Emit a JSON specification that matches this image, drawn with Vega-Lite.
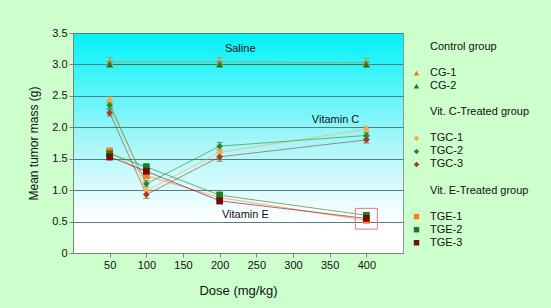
{
  "$schema": "https://vega.github.io/schema/vega-lite/v6.json",
  "width": 330,
  "height": 220,
  "autosize": {"type": "none"},
  "padding": {"left": 73, "top": 33, "right": 148, "bottom": 55},
  "background": "#CCFFCC",
  "config": {
    "font": "Liberation Sans",
    "view": {
      "stroke": "#8A9A9A",
      "strokeWidth": 1,
      "fill": {
        "gradient": "linear", "x1": 0, "y1": 0, "x2": 0, "y2": 1,
        "stops": [
          {"offset": 0, "color": "#00F2F8"},
          {"offset": 0.5, "color": "#A8F6FA"},
          {"offset": 0.85, "color": "#FFFFFF"},
          {"offset": 1, "color": "#FFFFFF"}
        ]
      }
    },
    "axis": {
      "labelFont": "Liberation Sans", "labelFontSize": 11, "labelColor": "#111111",
      "titleFont": "Liberation Sans", "titleFontSize": 12, "titleFontWeight": "normal", "titleColor": "#111111",
      "domainColor": "#808080", "tickColor": "#808080", "tickSize": 4
    },
    "legend": {
      "labelFont": "Liberation Sans", "labelFontSize": 11, "labelColor": "#111111"
    }
  },
  "datasets": {
    "series": [
      {"series": "CG-1", "dose": 50, "mass": 3.04, "lo": 2.97, "hi": 3.11},
      {"series": "CG-1", "dose": 200, "mass": 3.04, "lo": 2.97, "hi": 3.11},
      {"series": "CG-1", "dose": 400, "mass": 3.03, "lo": 2.96, "hi": 3.10},
      {"series": "CG-2", "dose": 50, "mass": 3.0, "lo": 2.96, "hi": 3.04},
      {"series": "CG-2", "dose": 200, "mass": 3.0, "lo": 2.96, "hi": 3.04},
      {"series": "CG-2", "dose": 400, "mass": 3.0, "lo": 2.96, "hi": 3.04},
      {"series": "TGC-1", "dose": 50, "mass": 2.43, "lo": 2.38, "hi": 2.48},
      {"series": "TGC-1", "dose": 100, "mass": 0.99, "lo": 0.94, "hi": 1.04},
      {"series": "TGC-1", "dose": 200, "mass": 1.60, "lo": 1.55, "hi": 1.65},
      {"series": "TGC-1", "dose": 400, "mass": 1.97, "lo": 1.92, "hi": 2.02},
      {"series": "TGC-2", "dose": 50, "mass": 2.35, "lo": 2.30, "hi": 2.40},
      {"series": "TGC-2", "dose": 100, "mass": 1.10, "lo": 1.05, "hi": 1.15},
      {"series": "TGC-2", "dose": 200, "mass": 1.70, "lo": 1.64, "hi": 1.76},
      {"series": "TGC-2", "dose": 400, "mass": 1.87, "lo": 1.82, "hi": 1.92},
      {"series": "TGC-3", "dose": 50, "mass": 2.23, "lo": 2.18, "hi": 2.28},
      {"series": "TGC-3", "dose": 100, "mass": 0.93, "lo": 0.87, "hi": 0.99},
      {"series": "TGC-3", "dose": 200, "mass": 1.53, "lo": 1.46, "hi": 1.60},
      {"series": "TGC-3", "dose": 400, "mass": 1.80, "lo": 1.75, "hi": 1.85},
      {"series": "TGE-1", "dose": 50, "mass": 1.62, "lo": 1.57, "hi": 1.67},
      {"series": "TGE-1", "dose": 100, "mass": 1.23, "lo": 1.18, "hi": 1.28},
      {"series": "TGE-1", "dose": 200, "mass": 0.88, "lo": 0.83, "hi": 0.93},
      {"series": "TGE-1", "dose": 400, "mass": 0.52, "lo": 0.48, "hi": 0.56},
      {"series": "TGE-2", "dose": 50, "mass": 1.58, "lo": 1.53, "hi": 1.63},
      {"series": "TGE-2", "dose": 100, "mass": 1.37, "lo": 1.32, "hi": 1.42},
      {"series": "TGE-2", "dose": 200, "mass": 0.92, "lo": 0.87, "hi": 0.97},
      {"series": "TGE-2", "dose": 400, "mass": 0.60, "lo": 0.56, "hi": 0.64},
      {"series": "TGE-3", "dose": 50, "mass": 1.53, "lo": 1.48, "hi": 1.58},
      {"series": "TGE-3", "dose": 100, "mass": 1.30, "lo": 1.25, "hi": 1.35},
      {"series": "TGE-3", "dose": 200, "mass": 0.83, "lo": 0.78, "hi": 0.88},
      {"series": "TGE-3", "dose": 400, "mass": 0.55, "lo": 0.51, "hi": 0.59}
    ],
    "notes": [
      {"label": "Saline", "dose": 228, "mass": 3.24},
      {"label": "Vitamin C", "dose": 358, "mass": 2.12},
      {"label": "Vitamin E", "dose": 235, "mass": 0.60}
    ],
    "box": [
      {"x1": 385, "x2": 415, "y1": 0.38, "y2": 0.71}
    ]
  },
  "encoding": {
    "x": {"type": "quantitative", "scale": {"domain": [0, 450], "nice": false},
          "title": "Dose (mg/kg)",
          "axis": {"values": [50, 100, 150, 200, 250, 300, 350, 400], "grid": false, "titlePadding": 14, "titleFontSize": 13}},
    "y": {"type": "quantitative", "scale": {"domain": [0, 3.5], "nice": false},
          "title": "Mean tumor mass (g)",
          "axis": {"values": [0, 0.5, 1, 1.5, 2, 2.5, 3, 3.5], "grid": true, "gridColor": "#4E8080", "gridWidth": 1,
                   "labelExpr": "datum.value == 0 ? '0' : format(datum.value, '.1f')", "titlePadding": 11}}
  },
  "layer": [
    {
      "data": {"name": "series"},
      "mark": {"type": "line", "strokeWidth": 1, "opacity": 0.6},
      "encoding": {
        "x": {"field": "dose"},
        "y": {"field": "mass"},
        "stroke": {
          "field": "series", "type": "nominal", "legend": null,
          "scale": {
            "domain": ["CG-1", "CG-2", "TGC-1", "TGC-2", "TGC-3", "TGE-1", "TGE-2", "TGE-3"],
            "range": ["#F07820", "#1A7A1A", "#FFA940", "#2A8A2A", "#9A4020", "#FF7A20", "#1A801A", "#7A0A0A"]
          }
        },
        "order": {"field": "dose"}
      }
    },
    {
      "data": {"name": "series"},
      "mark": {"type": "rule", "strokeWidth": 1},
      "encoding": {
        "x": {"field": "dose"},
        "y": {"field": "lo"},
        "y2": {"field": "hi"},
        "stroke": {"field": "series", "type": "nominal", "legend": null}
      }
    },
    {
      "data": {"name": "series"},
      "mark": {"type": "point", "shape": "M-1,0L1,0", "filled": false, "size": 36, "strokeWidth": 1},
      "encoding": {
        "x": {"field": "dose"},
        "y": {"field": "lo"},
        "stroke": {"field": "series", "type": "nominal", "legend": null}
      }
    },
    {
      "data": {"name": "series"},
      "mark": {"type": "point", "shape": "M-1,0L1,0", "filled": false, "size": 36, "strokeWidth": 1},
      "encoding": {
        "x": {"field": "dose"},
        "y": {"field": "hi"},
        "stroke": {"field": "series", "type": "nominal", "legend": null}
      }
    },
    {
      "data": {"name": "series"},
      "mark": {"type": "point", "filled": true, "size": 45, "opacity": 1},
      "encoding": {
        "x": {"field": "dose"},
        "y": {"field": "mass"},
        "color": {
          "field": "series", "type": "nominal",
          "scale": {
            "domain": ["Control group", "_1", "CG-1", "CG-2", "_2", "Vit. C-Treated group", "_3", "TGC-1", "TGC-2", "TGC-3", "_4", "Vit. E-Treated group", "_5", "TGE-1", "TGE-2", "TGE-3"],
            "range": ["transparent", "transparent", "#F07820", "#1A7A1A", "transparent", "transparent", "transparent", "#FFA940", "#2A8A2A", "#9A4020", "transparent", "transparent", "transparent", "#FF7A20", "#1A801A", "#7A0A0A"]
          },
          "legend": {
            "title": null, "orient": "none", "legendX": 338, "legendY": 8.5,
            "symbolSize": 30, "symbolStrokeWidth": 0, "rowPadding": 1.05, "labelOffset": 8,
            "labelExpr": "indexof(datum.label, '_') == 0 ? '' : datum.label"
          }
        },
        "shape": {
          "field": "series", "type": "nominal",
          "scale": {
            "domain": ["Control group", "_1", "CG-1", "CG-2", "_2", "Vit. C-Treated group", "_3", "TGC-1", "TGC-2", "TGC-3", "_4", "Vit. E-Treated group", "_5", "TGE-1", "TGE-2", "TGE-3"],
            "range": ["circle", "circle", "triangle-up", "triangle-up", "circle", "circle", "circle", "diamond", "diamond", "diamond", "circle", "circle", "circle", "square", "square", "square"]
          },
          "legend": {
            "title": null, "orient": "none", "legendX": 338, "legendY": 8.5,
            "symbolSize": 30, "symbolStrokeWidth": 0, "rowPadding": 1.05, "labelOffset": 8,
            "labelExpr": "indexof(datum.label, '_') == 0 ? '' : datum.label"
          }
        }
      }
    },
    {
      "data": {"name": "notes"},
      "mark": {"type": "text", "fontSize": 11, "font": "Liberation Sans", "color": "#111111", "align": "center", "baseline": "middle"},
      "encoding": {
        "x": {"field": "dose"},
        "y": {"field": "mass"},
        "text": {"field": "label"}
      }
    },
    {
      "data": {"name": "box"},
      "mark": {"type": "rect", "fill": null, "fillOpacity": 0, "stroke": "#E87878", "strokeWidth": 1},
      "encoding": {
        "x": {"field": "x1"},
        "x2": {"field": "x2"},
        "y": {"field": "y1"},
        "y2": {"field": "y2"}
      }
    }
  ]
}
